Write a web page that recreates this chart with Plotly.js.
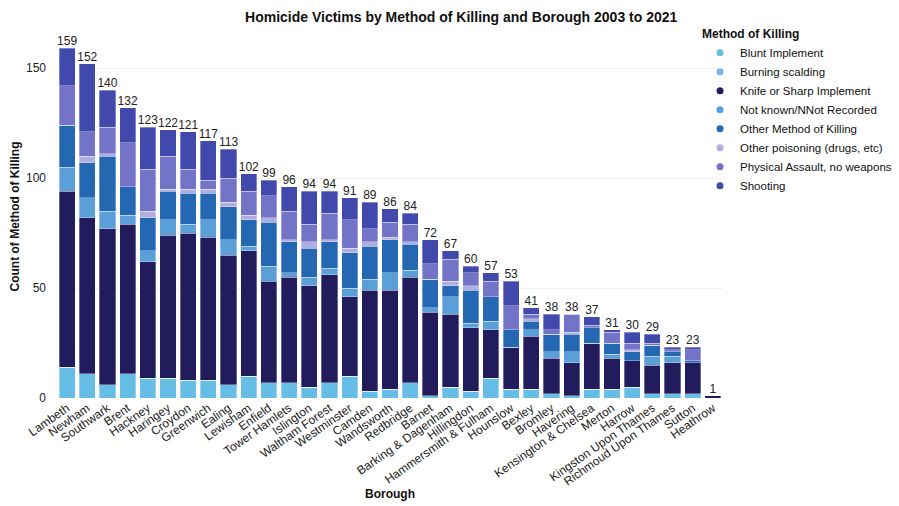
<!DOCTYPE html>
<html>
<head>
<meta charset="utf-8">
<script src="https://cdn.plot.ly/plotly-3.0.1.min.js"></script>
<style>
html,body{margin:0;padding:0;background:#fff;}
#chart{width:899px;height:506px;}
</style>
</head>
<body>
<div id="chart"></div>
<script>
var boroughs = ["Lambeth","Newham","Southwark","Brent","Hackney","Haringey","Croydon","Greenwich","Ealing","Lewisham","Enfield","Tower Hamlets","Islington","Waltham Forest","Westminster","Camden","Wandsworth","Redbridge","Barnet","Barking & Dagenham","Hillingdon","Hammersmith & Fulham","Hounslow","Bexley","Bromley","Havering","Kensington & Chelsea","Merton","Harrow","Kingston Upon Thames","Richmoud Upon Thames","Sutton","Heathrow"];

var blunt      = [14,11,6,11,9,9,8,8,6,10,7,7,5,7,10,3,4,7,1,5,3,9,4,4,2,1,4,4,5,2,2,2,0];
var burning    = [0,0,0,0,0,0,0,0,0,0,0,0,0,0,0,0,0,0,0,0,0,0,0,0,0,0,0,0,0,0,0,0,0];
var knife      = [80,71,71,68,53,65,67,65,59,57,46,48,46,49,36,46,45,48,38,33,29,22,19,24,16,15,21,14,12,13,14,14,1];
var notKnown   = [11,9,8,4,5,7,4,8,7,2,7,2,4,3,4,5,8,3,2,8,2,4,0,3,3,5,0,2,0,4,3,0,0];
var otherMeth  = [19,16,25,13,15,13,14,12,15,12,20,14,13,12,16,15,15,12,13,5,15,11,8,4,8,8,7,5,4,5,2,1,0];
var poisoning  = [0,3,1,0,3,1,2,2,2,2,2,1,3,1,2,2,1,1,0,2,2,0,0,1,0,1,0,0,1,0,0,0,0];
var physical   = [18,11,12,20,19,15,9,4,11,11,10,13,8,12,13,6,7,8,7,10,6,7,11,2,2,8,1,5,3,1,1,5,0];
var shooting   = [17,31,17,16,19,12,17,18,13,8,7,11,15,10,10,12,6,5,11,4,3,4,11,3,7,0,4,1,5,4,1,1,0];

var methodNames = ["Blunt Implement","Burning scalding","Knife or Sharp Implement","Not known/NNot Recorded","Other Method of Killing","Other poisoning (drugs, etc)","Physical Assault, no weapons","Shooting"];
var methodColors = ["#66bde6","#80b3e3","#231c5c","#5a9fd8","#2467b2","#aeaee0","#7373c7","#4249ad"];
var series = [blunt,burning,knife,notKnown,otherMeth,poisoning,physical,shooting];

var FONT = "Liberation Sans, Arial, sans-serif";
var traces = [];
series.forEach(function(vals,i){
  traces.push({
    type:"bar", x:boroughs, y:vals, name:methodNames[i],
    marker:{color:methodColors[i], line:{color:"rgba(255,255,255,0.55)", width:0.6}},
    showlegend:false, hovertemplate:"%{x}<br>"+methodNames[i]+": %{y}<extra></extra>"
  });
});
var totals = boroughs.map(function(b,j){ return series.reduce(function(s,a){return s+a[j];},0); });
traces.push({
  type:"scatter", mode:"text", x:boroughs, y:totals, text:totals.map(String),
  textposition:"top center", textfont:{family:FONT,size:12,color:"#222"},
  showlegend:false, cliponaxis:false, hoverinfo:"skip"
});
methodNames.forEach(function(n,i){
  traces.push({
    type:"scatter", mode:"markers", x:[null], y:[null], name:n,
    marker:{symbol:"circle", size:7, color:methodColors[i]}, showlegend:true
  });
});

var layout = {
  width:899, height:506,
  paper_bgcolor:"#fff", plot_bgcolor:"#fff",
  font:{family:FONT, size:12, color:"#222"},
  margin:{l:57, r:176, t:35, b:108, autoexpand:false},
  barmode:"stack", bargap:0.2,
  title:{text:"<b>Homicide Victims by Method of Killing and Borough 2003 to 2021</b>",
         font:{family:FONT,size:14,color:"#111"}, x:0.513, xref:"container", xanchor:"center", y:0.975, yref:"container"},
  xaxis:{type:"category", range:[-0.5, boroughs.length-0.5], tickangle:-35,
         tickfont:{family:FONT,size:12,color:"#222"},
         showgrid:false, ticks:"", showline:false, automargin:false,
         title:{text:"<b>Borough</b>", font:{family:FONT,size:12,color:"#111"}, standoff:0}},
  yaxis:{range:[0,165], tickvals:[0,50,100,150], tickfont:{family:FONT,size:12,color:"#222"},
         ticklabelstandoff:10,
         showgrid:true, gridcolor:"#f1f1f1", zeroline:false, showline:false, ticks:"",
         automargin:false,
         title:{text:"<b>Count of Method of Killing</b>", font:{family:FONT,size:12,color:"#111"}, standoff:3}},
  legend:{x:0.9655, xanchor:"left", y:1.034, yanchor:"top", traceorder:"normal",
          font:{family:FONT,size:11.5,color:"#111"}, itemwidth:30, tracegroupgap:0,
          title:{text:"<b>Method of Killing</b>", font:{family:FONT,size:12,color:"#111"}},
          bgcolor:"rgba(0,0,0,0)"},
  showlegend:true
};
Plotly.newPlot("chart", traces, layout, {displayModeBar:false, staticPlot:true});
</script>
</body>
</html>
